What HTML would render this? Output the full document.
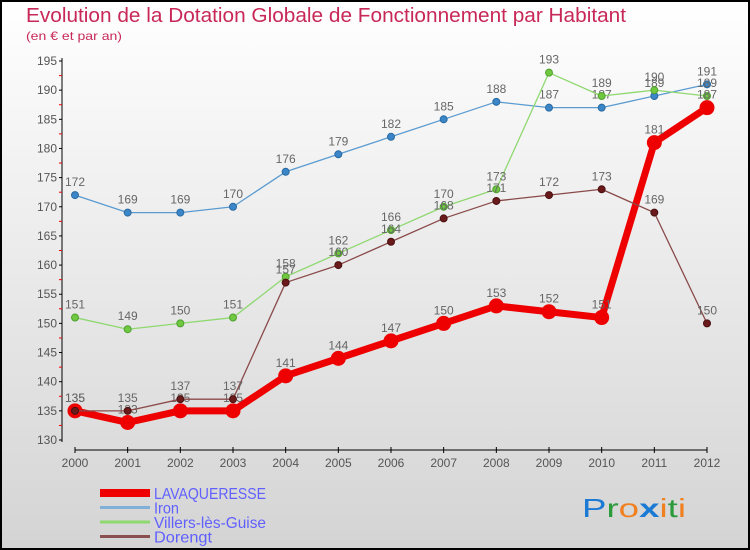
<!DOCTYPE html>
<html><head><meta charset="utf-8"><style>
html,body{margin:0;padding:0}
body{width:750px;height:550px;overflow:hidden;font-family:"Liberation Sans",sans-serif}
#wrap{position:relative;width:746px;height:546px;border:2px solid #000;background:linear-gradient(#ffffff,#f4f4f4 25%,#d4d4d4)}
svg{position:absolute;left:-2px;top:-2px}
</style></head><body>
<div id="wrap">
<svg id="chart" width="750" height="550" font-family="Liberation Sans, sans-serif">
<text x="26" y="22" font-size="20" fill="#c82858" textLength="600" lengthAdjust="spacingAndGlyphs">Evolution de la Dotation Globale de Fonctionnement par Habitant</text>
<text x="26" y="40" font-size="12" fill="#c82858" textLength="96" lengthAdjust="spacingAndGlyphs">(en € et par an)</text>
<g id="axes"></g>
<g id="series"></g>
<g id="legend"></g>
<text x="582" y="517" font-size="26" textLength="104" lengthAdjust="spacingAndGlyphs"><tspan fill="#1a7ad4">P</tspan><tspan fill="#2a9a3a">r</tspan><tspan fill="#f08020">o</tspan><tspan fill="#1a7ad4" font-weight="bold">x</tspan><tspan fill="#f08020">i</tspan><tspan fill="#2a9a3a">t</tspan><tspan fill="#f08020">i</tspan></text>
</svg>
</div>
<script>
const years=["2000","2001","2002","2003","2004","2005","2006","2007","2008","2009","2010","2011","2012"];
const yTicks=[130,135,140,145,150,155,160,165,170,175,180,185,190,195];
const lavaqueresse=[135,133,135,135,141,144,147,150,153,152,151,181,187];
const iron=[172,169,169,170,176,179,182,185,188,187,187,189,191];
const villers=[151,149,150,151,158,162,166,170,173,193,189,190,189];
const dorengt=[135,135,137,137,157,160,164,168,171,172,173,169,150];
const NS="http://www.w3.org/2000/svg";
const X=i=>75+i*(707-75)/(years.length-1);
const Y=v=>440-(v-130)*(440-61)/(195-130);
function mk(tag,attrs,parent,txt){const e=document.createElementNS(NS,tag);for(const k in attrs)e.setAttribute(k,attrs[k]);if(txt!==undefined)e.textContent=txt;parent.appendChild(e);return e;}
const axes=document.getElementById('axes');
const ya=mk('line',{x1:62,y1:58,x2:62,y2:442,stroke:'#000','stroke-width':1},axes);


const xa=mk('line',{x1:75,y1:450,x2:707,y2:450,stroke:'#000','stroke-width':1},axes);


yTicks.forEach(v=>{
 mk('line',{x1:59,y1:Y(v),x2:62,y2:Y(v),stroke:'#000'},axes);
 if(v<195) mk('line',{x1:59,y1:Y(v+2.5),x2:62,y2:Y(v+2.5),stroke:'#e00'},axes);
 const t=mk('text',{x:57,y:Y(v)+4,'font-size':12,fill:'#555','text-anchor':'end'},axes,v);
 
 
});
years.forEach((y,i)=>{
 mk('line',{x1:X(i),y1:447,x2:X(i),y2:453,stroke:'#000'},axes);
 const t=mk('text',{x:X(i),y:467,'font-size':12,fill:'#555','text-anchor':'middle'},axes,y);
 
 
});
const ser=document.getElementById('series');
function draw(data,name,color,lw,r,dot,stroke){
 const g=mk('g',{},ser);
 
 
 const p=mk('polyline',{points:data.map((v,i)=>X(i)+','+Y(v)).join(' '),fill:'none',stroke:color,'stroke-width':lw,'stroke-linejoin':'round'},g);
 
 
 data.forEach((v,i)=>{
  const c=mk('circle',{cx:X(i),cy:Y(v),r:r,fill:dot,stroke:stroke,'stroke-width':1},g);
  
  
  const t=mk('text',{x:X(i),y:Y(v)-9,'font-size':12,fill:'#666','text-anchor':'middle'},g,v);
  
  
 });
}
draw(iron,'iron','#5b9bd0',1.3,3.5,'#3a86c8','#2a6aa0');
draw(villers,'villers-les-guise','#8fd870',1.3,3.5,'#70c840','#50a030');
draw(lavaqueresse,'lavaqueresse','#ee0000',7,7,'#ee0000','#ee0000');
draw(dorengt,'dorengt','#8a4a4a',1.3,3.5,'#6a1a1a','#4a1010');
const lg=document.getElementById('legend');
const items=[["LAVAQUERESSE","#ee0000",8,112],["Iron","#80b0d8",3,25],["Villers-lès-Guise","#90d870",3,112],["Dorengt","#8a5050",3,58]];
items.forEach((it,k)=>{
 const y=493+k*14.5;
 const l=mk('line',{x1:100,y1:y,x2:150,y2:y,stroke:it[1],'stroke-width':it[2]},lg);
 
 
 const t=mk('text',{x:154,y:y+6,'font-size':16,fill:'#6060ff',textLength:it[3],lengthAdjust:'spacingAndGlyphs'},lg,it[0]);
 
 
});
</script>
</body></html>
